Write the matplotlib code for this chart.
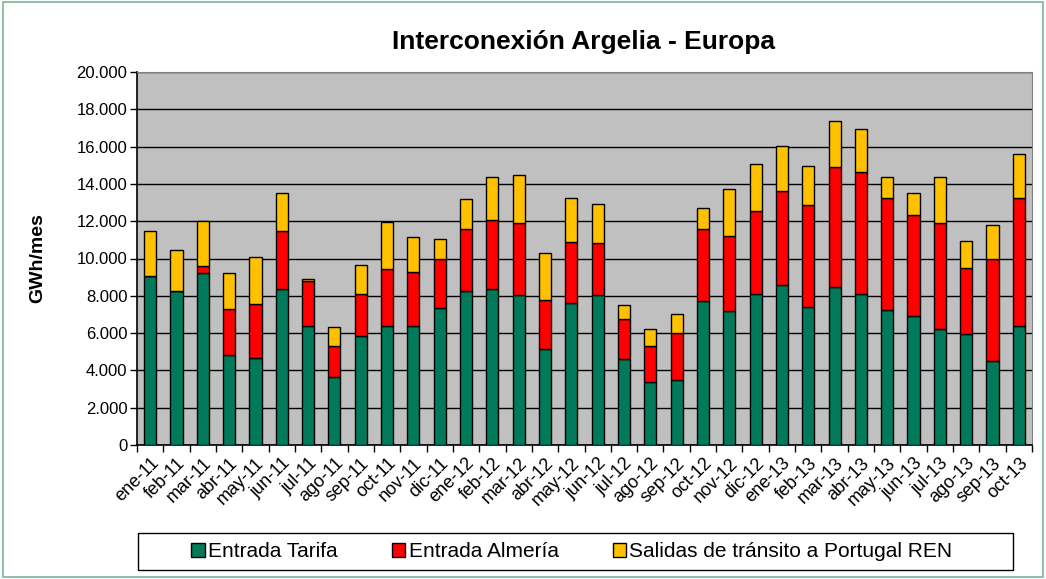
import numpy as np
import matplotlib
matplotlib.use('Agg')
import matplotlib.pyplot as plt
from matplotlib.ticker import FuncFormatter

plt.rcParams['font.family'] = ['Liberation Sans', 'DejaVu Sans']

meses = ['ene-11','feb-11','mar-11','abr-11','may-11','jun-11','jul-11','ago-11','sep-11','oct-11','nov-11','dic-11',
         'ene-12','feb-12','mar-12','abr-12','may-12','jun-12','jul-12','ago-12','sep-12','oct-12','nov-12','dic-12',
         'ene-13','feb-13','mar-13','abr-13','may-13','jun-13','jul-13','ago-13','sep-13','oct-13']

# GWh/mes
tarifa = [9060, 8260, 9200, 4830, 4660, 8360, 6380, 3650, 5840, 6380, 6380, 7330,
          8260, 8360, 8040, 5150, 7600, 8040, 4600, 3380, 3490, 7700, 7180, 8100,
          8580, 7400, 8470, 8100, 7240, 6920, 6220, 5950, 4500, 6380]
almeria = [0, 0, 400, 2460, 2900, 3110, 2420, 1650, 2260, 3060, 2900, 2640,
           3320, 3700, 3860, 2620, 3280, 2790, 2160, 1920, 2510, 3880, 4020, 4450,
           5040, 5470, 6430, 6540, 6000, 5410, 5680, 3540, 5470, 6860]
portugal = [2410, 2200, 2400, 1930, 2520, 2030, 100, 1030, 1550, 2510, 1870, 1080,
            1610, 2310, 2580, 2530, 2360, 2090, 740, 920, 1020, 1130, 2530, 2520,
            2410, 2090, 2470, 2300, 1130, 1170, 2470, 1450, 1830, 2360]

fig = plt.figure(figsize=(10.46, 5.79), dpi=100)
fig.patches.append(plt.Rectangle((0.003, 0.003), 0.994, 0.994, transform=fig.transFigure,
                                 fill=False, edgecolor='#7DB59A', linewidth=1.2))
ax = fig.add_axes([137/1046, 1-445/579, 895/1046, 373/579])
ax.set_facecolor('#C0C0C0')

x = np.arange(len(meses))
t = np.array(tarifa)
a = np.array(almeria)
p = np.array(portugal)
w = 0.46
ax.bar(x, t, w, color='#007A5A', edgecolor='black', linewidth=1, label='Entrada Tarifa', zorder=3)
ax.bar(x, a, w, bottom=t, color='#FF0000', edgecolor='black', linewidth=1, label='Entrada Almería', zorder=3)
ax.bar(x, p, w, bottom=t+a, color='#FFC000', edgecolor='black', linewidth=1,
       label='Salidas de tránsito a Portugal REN', zorder=3)

ax.set_xlim(-0.5, len(meses)-0.5)
ax.set_ylim(0, 20000)
ax.set_yticks(np.arange(0, 20001, 2000))
ax.yaxis.set_major_formatter(FuncFormatter(lambda v, pos: '{:,.0f}'.format(v).replace(',', '.')))
ax.grid(axis='y', color='black', linewidth=1, zorder=1)
ax.set_xticks(x)
ax.set_xticklabels(meses, rotation=45, ha='right', rotation_mode='anchor', fontsize=13)
ax.set_xticks(np.arange(-0.5, len(meses), 1), minor=True)
ax.tick_params(axis='x', which='major', length=0, pad=7)
ax.tick_params(axis='x', which='minor', length=5, width=1)
ax.tick_params(axis='y', labelsize=12, length=5, width=1, pad=2)
for s in ['top', 'right']:
    ax.spines[s].set_color('#808080')
for s in ['left', 'bottom']:
    ax.spines[s].set_color('black')
    ax.spines[s].set_linewidth(1.2)

ax.set_ylabel('GWh/mes', fontsize=14, fontweight='bold', labelpad=22)
fig.text(584/1046, 1-42/579, 'Interconexión Argelia - Europa', ha='center', va='center',
         fontsize=19, fontweight='bold')

# legend box drawn separately, entries centred inside it
fig.patches.append(plt.Rectangle((138/1046, 9/579), 875/1046, 37/579, transform=fig.transFigure,
                                 fill=True, facecolor='white', edgecolor='black', linewidth=1))
leg = fig.legend(loc='center', bbox_to_anchor=(572/1046, 27.5/579),
                 ncol=3, fontsize=15, frameon=False, columnspacing=2.6,
                 handlelength=0.65, handleheight=0.65, handletextpad=0.15)

fig.savefig('out.png', dpi=100)
